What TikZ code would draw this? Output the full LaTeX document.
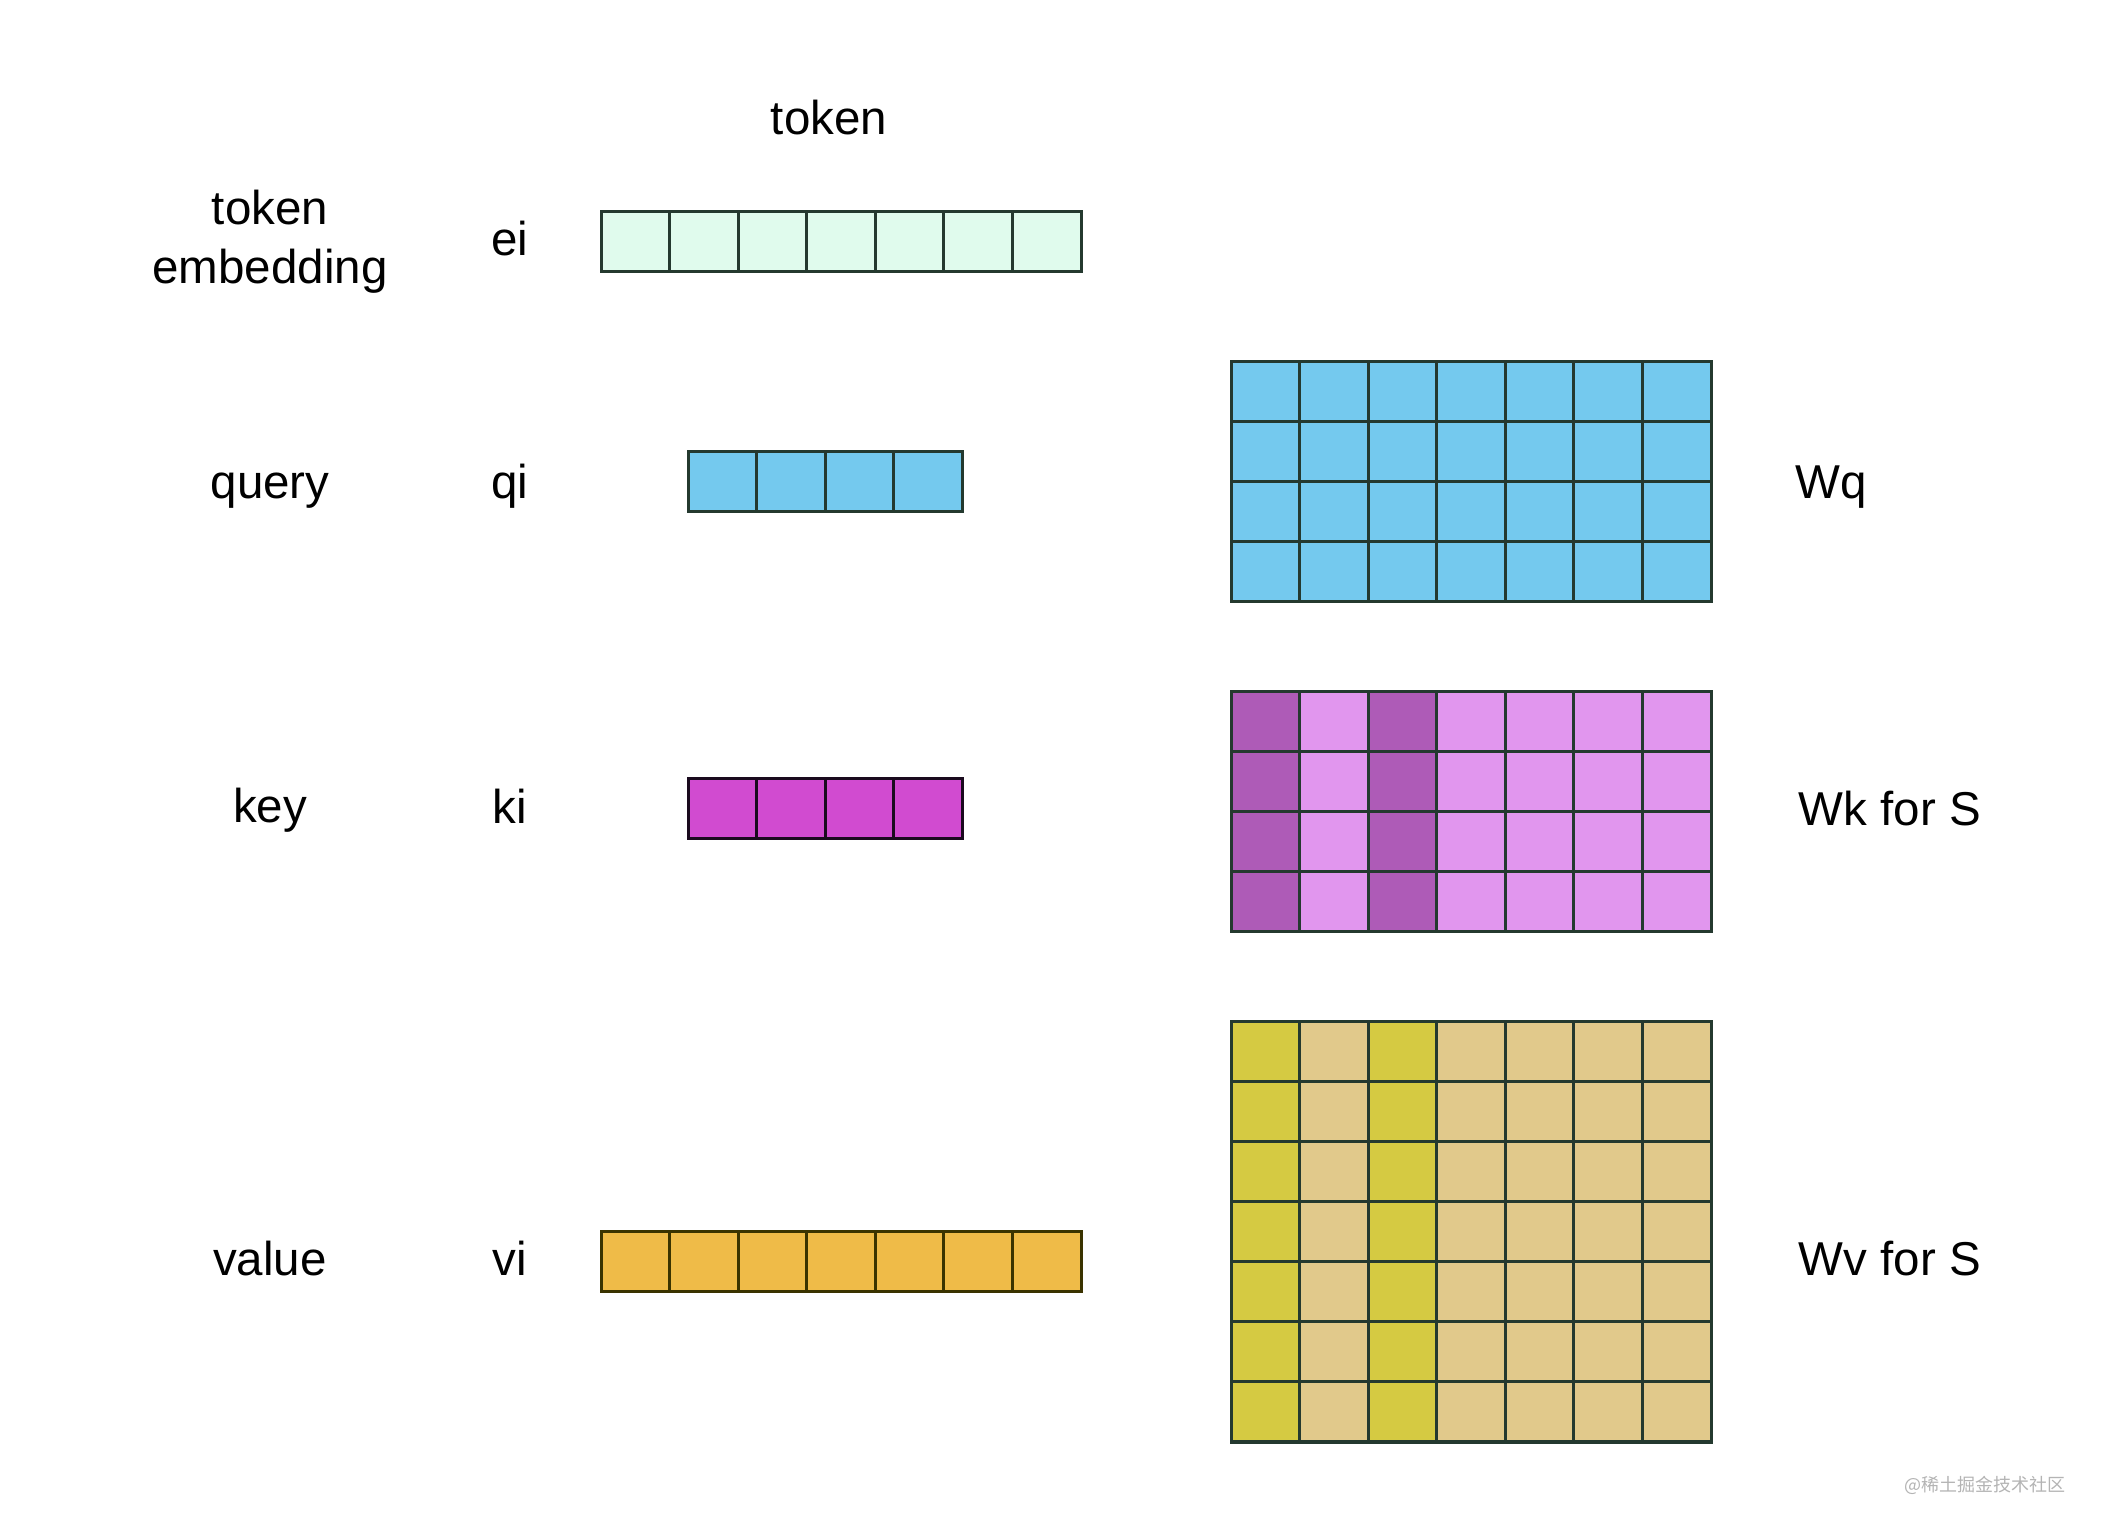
\documentclass[tikz,border=0pt]{standalone}
\usepackage{fontspec}
\setmainfont{Liberation Sans}
\newfontfamily\cjk{Noto Sans CJK SC}
\definecolor{mint}{HTML}{E0FBED}
\definecolor{skyb}{HTML}{74C9EE}
\definecolor{magk}{HTML}{D14BD0}
\definecolor{kdark}{HTML}{AE5BB7}
\definecolor{klight}{HTML}{E196EE}
\definecolor{vyel}{HTML}{D5CA42}
\definecolor{vtan}{HTML}{E1C98B}
\definecolor{vorange}{HTML}{EFBB48}
\definecolor{gridline}{HTML}{24392F}
\definecolor{kline}{HTML}{1A0A1E}
\definecolor{vline}{HTML}{3A3300}
\definecolor{wmark}{HTML}{B4B4B4}
\tikzset{
  lbl/.style={font=\fontsize{47.5}{57}\selectfont, inner sep=0pt, anchor=base},
  cellbox/.style={line width=3pt, draw=gridline},
}
% \vecrow{name}{x0}{y0}{ncols}{fill}{line}
\newcommand{\vecrow}[6]{%
  \foreach \c in {1,...,#4}{%
    \draw[cellbox, draw=#6, fill=#5] ({#2+(\c-1)*68.57},#3) rectangle ++(68.57,60);
  }%
  \draw[line width=3pt, draw=#6] (#2,#3) rectangle ++({#4*68.57},60);
  \coordinate (#1) at ({#2+#4*34.285},#3+30);
}
\begin{document}
\begin{tikzpicture}[x=1pt,y=-1pt]
\useasboundingbox (0,0) rectangle (2103,1533);
\fill[white] (0,0) rectangle (2103,1533);

% text labels
\node[lbl] (title) at (829,135) {token};
\node[lbl, anchor=center, align=center, font=\fontsize{47.5}{59}\selectfont] (temb) at (270,242) {token\\embedding};
\node[lbl] (ei) at (510,255) {ei};
\node[lbl] (query) at (270,498) {query};
\node[lbl] (qi) at (510,498) {qi};
\node[lbl] (key) at (270,822) {key};
\node[lbl] (ki) at (510,823) {ki};
\node[lbl] (value) at (270,1275) {value};
\node[lbl] (vi) at (510,1275) {vi};
\node[lbl] (wq) at (1831,498) {Wq};
\node[lbl] (wk) at (1890,825) {Wk for S};
\node[lbl] (wv) at (1890,1275) {Wv for S};

% vectors
\vecrow{eivec}{601}{211}{7}{mint}{gridline}
\vecrow{qivec}{688}{451}{4}{skyb}{gridline}
\vecrow{kivec}{688}{778}{4}{magk}{kline}
\vecrow{vivec}{601}{1231}{7}{vorange}{vline}

% Wq matrix
\foreach \r in {1,...,4}{
  \foreach \c in {1,...,7}{
    \draw[cellbox, fill=skyb] ({1231+(\c-1)*68.57},{361+(\r-1)*60}) rectangle ++(68.57,60);
  }
}
\draw[line width=3pt, draw=gridline] (1231,361) rectangle (1711,601);

% Wk matrix
\foreach \r in {1,...,4}{
  \foreach \c in {1,...,7}{
    \ifnum\c=1 \def\fc{kdark}\else\ifnum\c=3 \def\fc{kdark}\else\def\fc{klight}\fi\fi
    \draw[cellbox, fill=\fc] ({1231+(\c-1)*68.57},{691+(\r-1)*60}) rectangle ++(68.57,60);
  }
}
\draw[line width=3pt, draw=gridline] (1231,691) rectangle (1711,931);

% Wv matrix
\foreach \r in {1,...,7}{
  \foreach \c in {1,...,7}{
    \ifnum\c=1 \def\fc{vyel}\else\ifnum\c=3 \def\fc{vyel}\else\def\fc{vtan}\fi\fi
    \draw[cellbox, fill=\fc] ({1231+(\c-1)*68.57},{1021+(\r-1)*60.14}) rectangle ++(68.57,60.14);
  }
}
\draw[line width=3pt, draw=gridline] (1231,1021) rectangle (1711,1442);

% watermark
\node[inner sep=0pt, text=wmark, font=\cjk\fontsize{18}{20}\selectfont] (wm) at (1985,1485) {@稀土掘金技术社区};
\end{tikzpicture}
\end{document}
